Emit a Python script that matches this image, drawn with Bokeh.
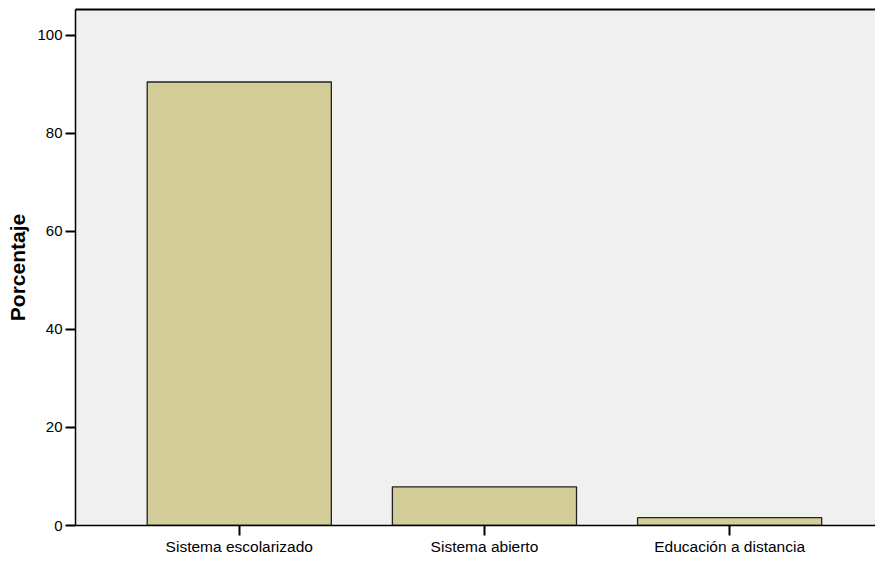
from bokeh.plotting import figure
from bokeh.models import ColumnDataSource, FixedTicker, LinearAxis, Range1d
from bokeh.embed import file_html
from bokeh.resources import INLINE

categories = ["Sistema escolarizado", "Sistema abierto", "Educación a distancia"]
porcentaje = [90.5, 7.9, 1.6]
y_ticks = [0, 20, 40, 60, 80, 100]

xs = list(range(1, len(categories) + 1))
src = ColumnDataSource(dict(x=xs, top=porcentaje, cat=categories))

p = figure(width=875, height=557, output_backend="svg", toolbar_location=None,
           x_range=Range1d(0.332, 3.595), y_range=Range1d(0, 105.3),
           min_border_left=75, min_border_right=0, min_border_top=9, min_border_bottom=0)
p.background_fill_color = "#F0F0F0"
p.border_fill_color = "white"
p.outline_line_color = None
p.grid.visible = False

p.vbar(x="x", top="top", width=0.751, bottom=0, source=src,
       fill_color="#D3CE99", line_color="#222222", line_width=1.3)

font = "Liberation Sans"
p.yaxis.ticker = FixedTicker(ticks=y_ticks)
p.yaxis.minor_tick_line_color = None
p.yaxis.major_tick_out = 10
p.yaxis.major_tick_in = 0
p.yaxis.major_tick_line_width = 2
p.yaxis.axis_line_width = 1.5
p.yaxis.axis_line_color = "black"
p.yaxis.major_label_text_font = font
p.yaxis.major_label_text_font_size = "15px"
p.yaxis.major_label_text_color = "black"
p.yaxis.major_label_standoff = 3
p.yaxis.axis_label = "Porcentaje"
p.yaxis.axis_label_text_font = font
p.yaxis.axis_label_text_font_size = "21px"
p.yaxis.axis_label_text_font_style = "bold"
p.yaxis.axis_label_text_color = "black"
p.yaxis.axis_label_standoff = 5

p.xaxis.ticker = FixedTicker(ticks=xs)
p.xaxis.major_label_overrides = {x: c for x, c in zip(xs, categories)}
p.xaxis.minor_tick_line_color = None
p.xaxis.major_tick_out = 10
p.xaxis.major_tick_in = 0
p.xaxis.major_tick_line_width = 2
p.xaxis.axis_line_width = 1.5
p.xaxis.axis_line_color = "black"
p.xaxis.major_label_text_font = font
p.xaxis.major_label_text_font_size = "15.5px"
p.xaxis.major_label_text_color = "black"
p.xaxis.major_label_standoff = 2

top_axis = LinearAxis(ticker=FixedTicker(ticks=[]), major_tick_out=0, major_tick_in=0,
                      minor_tick_out=0, minor_tick_in=0, major_label_text_font_size="0px",
                      axis_line_color="black", axis_line_width=2)
p.add_layout(top_axis, "above")

open("out.html", "w").write(file_html(p, INLINE))
